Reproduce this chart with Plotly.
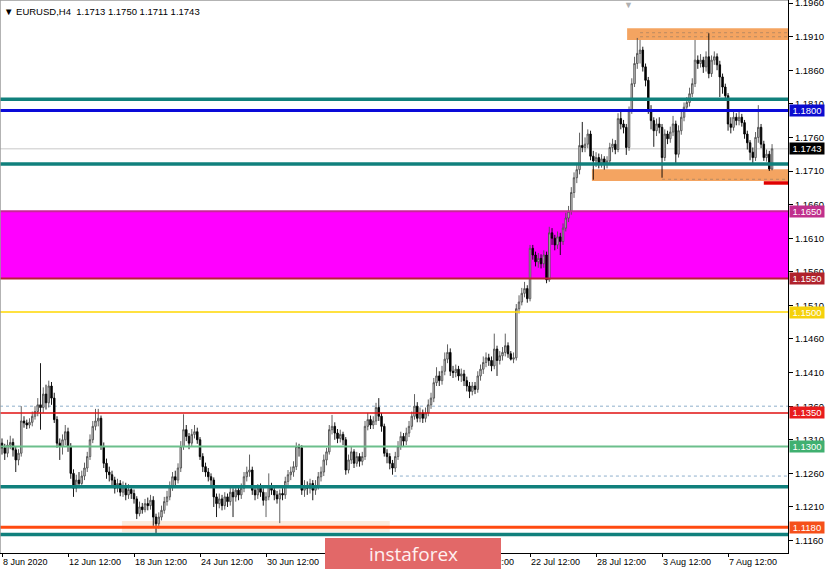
import plotly.graph_objects as go

# ---------------- data (EURUSD H4) ----------------
bar_index = list(range(284))

opens = [
1.1302,1.1300,1.1296,1.1305,1.1298,1.1290,1.1302,1.1306,1.1295,1.1280,
1.1290,1.1338,1.1335,1.1332,1.1336,1.1345,1.1352,1.1362,1.1358,1.1378,
1.1365,1.1390,1.1372,1.1340,1.1305,1.1300,1.1310,1.1322,1.1300,1.1260,
1.1238,1.1250,1.1245,1.1256,1.1268,1.1285,1.1310,1.1330,1.1338,1.1342,
1.1300,1.1275,1.1262,1.1258,1.1250,1.1238,1.1245,1.1232,1.1240,1.1228,
1.1236,1.1230,1.1222,1.1200,1.1210,1.1206,1.1215,1.1212,1.1220,1.1195,
1.1185,1.1195,1.1205,1.1218,1.1225,1.1240,1.1255,1.1250,1.1268,1.1300,
1.1325,1.1315,1.1305,1.1318,1.1322,1.1310,1.1285,1.1270,1.1262,1.1255,
1.1250,1.1225,1.1215,1.1222,1.1212,1.1225,1.1218,1.1232,1.1225,1.1235,
1.1228,1.1238,1.1255,1.1262,1.1265,1.1235,1.1228,1.1238,1.1232,1.1220,
1.1225,1.1240,1.1235,1.1228,1.1222,1.1230,1.1228,1.1248,1.1258,1.1262,
1.1270,1.1300,1.1298,1.1235,1.1240,1.1238,1.1245,1.1235,1.1242,1.1255,
1.1262,1.1280,1.1292,1.1325,1.1330,1.1320,1.1312,1.1318,1.1310,1.1265,
1.1280,1.1292,1.1275,1.1285,1.1278,1.1285,1.1330,1.1340,1.1332,1.1338,
1.1358,1.1345,1.1330,1.1290,1.1285,1.1275,1.1268,1.1285,1.1300,1.1315,
1.1308,1.1320,1.1330,1.1345,1.1360,1.1342,1.1350,1.1342,1.1350,1.1362,
1.1372,1.1395,1.1405,1.1398,1.1412,1.1430,1.1440,1.1412,1.1410,1.1415,
1.1405,1.1408,1.1398,1.1390,1.1382,1.1390,1.1385,1.1405,1.1415,1.1425,
1.1432,1.1428,1.1420,1.1445,1.1428,1.1435,1.1440,1.1450,1.1438,1.1430,
1.1432,1.1505,1.1515,1.1528,1.1535,1.1520,1.1595,1.1585,1.1575,1.1580,
1.1572,1.1585,1.1548,1.1618,1.1610,1.1600,1.1612,1.1605,1.1625,1.1640,
1.1650,1.1678,1.1700,1.1712,1.1748,1.1745,1.1750,1.1765,1.1732,1.1725,
1.1730,1.1722,1.1728,1.1720,1.1725,1.1745,1.1750,1.1742,1.1788,1.1780,
1.1775,1.1745,1.1800,1.1840,1.1870,1.1885,1.1890,1.1865,1.1845,1.1800,
1.1785,1.1770,1.1780,1.1775,1.1730,1.1765,1.1758,1.1768,1.1780,1.1735,
1.1770,1.1790,1.1805,1.1812,1.1825,1.1840,1.1875,1.1870,1.1875,1.1865,
1.1880,1.1855,1.1875,1.1880,1.1868,1.1850,1.1835,1.1822,1.1780,1.1775,
1.1790,1.1785,1.1790,1.1782,1.1765,1.1752,1.1738,1.1730,1.1760,1.1775,
1.1750,1.1730,1.1735,1.1713]

highs = [
1.1312,1.1310,1.1315,1.1312,1.1304,1.1310,1.1316,1.1312,1.1300,1.1296,
1.1360,1.1345,1.1340,1.1342,1.1352,1.1360,1.1372,1.1424,1.1388,1.1392,
1.1398,1.1396,1.1380,1.1345,1.1312,1.1318,1.1332,1.1328,1.1305,1.1266,
1.1258,1.1262,1.1264,1.1276,1.1292,1.1318,1.1338,1.1356,1.1356,1.1346,
1.1306,1.1282,1.1270,1.1264,1.1255,1.1252,1.1250,1.1248,1.1246,1.1244,
1.1242,1.1236,1.1226,1.1218,1.1216,1.1222,1.1224,1.1228,1.1226,1.1200,
1.1202,1.1212,1.1225,1.1234,1.1248,1.1262,1.1264,1.1275,1.1308,1.1348,
1.1332,1.1320,1.1326,1.1332,1.1328,1.1314,1.1290,1.1276,1.1268,1.1260,
1.1254,1.1230,1.1230,1.1228,1.1232,1.1230,1.1240,1.1238,1.1242,1.1240,
1.1245,1.1262,1.1270,1.1288,1.1270,1.1240,1.1244,1.1245,1.1238,1.1232,
1.1260,1.1246,1.1240,1.1234,1.1236,1.1238,1.1255,1.1265,1.1270,1.1278,
1.1306,1.1304,1.1302,1.1250,1.1248,1.1252,1.1250,1.1250,1.1262,1.1270,
1.1288,1.1298,1.1332,1.1347,1.1336,1.1326,1.1325,1.1322,1.1314,1.1288,
1.1300,1.1296,1.1292,1.1290,1.1292,1.1338,1.1350,1.1346,1.1345,1.1365,
1.1372,1.1350,1.1334,1.1296,1.1290,1.1280,1.1292,1.1308,1.1322,1.1320,
1.1328,1.1338,1.1352,1.1378,1.1366,1.1358,1.1355,1.1358,1.1370,1.1380,
1.1402,1.1418,1.1412,1.1420,1.1440,1.1452,1.1446,1.1420,1.1422,1.1420,
1.1416,1.1414,1.1404,1.1396,1.1396,1.1396,1.1412,1.1422,1.1434,1.1440,
1.1438,1.1434,1.1468,1.1450,1.1442,1.1448,1.1468,1.1455,1.1442,1.1440,
1.1512,1.1525,1.1536,1.1545,1.1540,1.1600,1.1600,1.1590,1.1588,1.1586,
1.1592,1.1590,1.1627,1.1625,1.1615,1.1620,1.1618,1.1632,1.1648,1.1658,
1.1686,1.1708,1.1722,1.1767,1.1783,1.1760,1.1772,1.1770,1.1740,1.1738,
1.1736,1.1735,1.1732,1.1732,1.1752,1.1758,1.1756,1.1796,1.1798,1.1786,
1.1780,1.1806,1.1848,1.1880,1.1908,1.1905,1.1895,1.1870,1.1850,1.1808,
1.1790,1.1788,1.1790,1.1780,1.1772,1.1770,1.1776,1.1792,1.1785,1.1778,
1.1798,1.1812,1.1820,1.1834,1.1848,1.1905,1.1882,1.1884,1.1880,1.1888,
1.1915,1.1882,1.1888,1.1885,1.1874,1.1855,1.1840,1.1826,1.1790,1.1798,
1.1796,1.1798,1.1795,1.1786,1.1770,1.1756,1.1745,1.1768,1.1808,1.1780,
1.1755,1.1742,1.1740,1.1750]

lows = [
1.1290,1.1286,1.1290,1.1288,1.1280,1.1284,1.1296,1.1285,1.1262,1.1272,
1.1285,1.1328,1.1326,1.1327,1.1330,1.1340,1.1345,1.1325,1.1350,1.1355,
1.1358,1.1362,1.1335,1.1298,1.1280,1.1288,1.1302,1.1292,1.1252,1.1225,
1.1232,1.1238,1.1240,1.1250,1.1262,1.1280,1.1305,1.1324,1.1330,1.1295,
1.1268,1.1252,1.1248,1.1242,1.1230,1.1232,1.1226,1.1225,1.1220,1.1222,
1.1222,1.1215,1.1192,1.1196,1.1200,1.1202,1.1205,1.1206,1.1182,1.1170,
1.1178,1.1190,1.1200,1.1212,1.1220,1.1234,1.1242,1.1245,1.1262,1.1295,
1.1308,1.1296,1.1300,1.1312,1.1304,1.1280,1.1262,1.1255,1.1248,1.1242,
1.1210,1.1195,1.1208,1.1205,1.1206,1.1210,1.1212,1.1195,1.1218,1.1220,
1.1222,1.1232,1.1248,1.1255,1.1228,1.1220,1.1222,1.1225,1.1212,1.1195,
1.1220,1.1228,1.1220,1.1215,1.1186,1.1220,1.1222,1.1242,1.1250,1.1255,
1.1265,1.1285,1.1228,1.1225,1.1228,1.1230,1.1220,1.1228,1.1236,1.1248,
1.1256,1.1272,1.1288,1.1318,1.1310,1.1305,1.1306,1.1302,1.1258,1.1260,
1.1274,1.1268,1.1270,1.1270,1.1272,1.1280,1.1324,1.1326,1.1326,1.1332,
1.1338,1.1322,1.1285,1.1275,1.1266,1.1258,1.1262,1.1280,1.1295,1.1300,
1.1302,1.1314,1.1325,1.1340,1.1336,1.1336,1.1335,1.1336,1.1345,1.1356,
1.1366,1.1390,1.1390,1.1392,1.1406,1.1424,1.1405,1.1402,1.1403,1.1398,
1.1396,1.1390,1.1382,1.1372,1.1376,1.1378,1.1380,1.1398,1.1408,1.1418,
1.1420,1.1412,1.1415,1.1405,1.1422,1.1428,1.1434,1.1432,1.1428,1.1424,
1.1428,1.1498,1.1510,1.1522,1.1514,1.1516,1.1578,1.1568,1.1566,1.1565,
1.1566,1.1543,1.1545,1.1600,1.1592,1.1594,1.1585,1.1600,1.1620,1.1634,
1.1645,1.1670,1.1692,1.1705,1.1738,1.1738,1.1744,1.1726,1.1697,1.1716,
1.1714,1.1715,1.1712,1.1714,1.1720,1.1738,1.1735,1.1738,1.1772,1.1766,
1.1734,1.1740,1.1795,1.1835,1.1862,1.1870,1.1858,1.1836,1.1795,1.1772,
1.1746,1.1762,1.1766,1.1700,1.1725,1.1750,1.1752,1.1762,1.1722,1.1730,
1.1764,1.1784,1.1798,1.1806,1.1820,1.1835,1.1862,1.1864,1.1856,1.1858,
1.1848,1.1850,1.1868,1.1860,1.1820,1.1825,1.1815,1.1770,1.1766,1.1770,
1.1778,1.1778,1.1776,1.1758,1.1742,1.1726,1.1722,1.1725,1.1752,1.1744,
1.1725,1.1724,1.1710,1.1711]

closes = [
1.1300,1.1296,1.1305,1.1298,1.1290,1.1302,1.1306,1.1295,1.1280,1.1290,
1.1338,1.1335,1.1332,1.1336,1.1345,1.1352,1.1362,1.1358,1.1378,1.1365,
1.1390,1.1372,1.1340,1.1305,1.1300,1.1310,1.1322,1.1300,1.1260,1.1238,
1.1250,1.1245,1.1256,1.1268,1.1285,1.1310,1.1330,1.1338,1.1342,1.1300,
1.1275,1.1262,1.1258,1.1250,1.1238,1.1245,1.1232,1.1240,1.1228,1.1236,
1.1230,1.1222,1.1200,1.1210,1.1206,1.1215,1.1212,1.1220,1.1195,1.1185,
1.1195,1.1205,1.1218,1.1225,1.1240,1.1255,1.1250,1.1268,1.1300,1.1325,
1.1315,1.1305,1.1318,1.1322,1.1310,1.1285,1.1270,1.1262,1.1255,1.1250,
1.1225,1.1215,1.1222,1.1212,1.1225,1.1218,1.1232,1.1225,1.1235,1.1228,
1.1238,1.1255,1.1262,1.1265,1.1235,1.1228,1.1238,1.1232,1.1220,1.1225,
1.1240,1.1235,1.1228,1.1222,1.1230,1.1228,1.1248,1.1258,1.1262,1.1270,
1.1300,1.1298,1.1235,1.1240,1.1238,1.1245,1.1235,1.1242,1.1255,1.1262,
1.1280,1.1292,1.1325,1.1330,1.1320,1.1312,1.1318,1.1310,1.1265,1.1280,
1.1292,1.1275,1.1285,1.1278,1.1285,1.1330,1.1340,1.1332,1.1338,1.1358,
1.1345,1.1330,1.1290,1.1285,1.1275,1.1268,1.1285,1.1300,1.1315,1.1308,
1.1320,1.1330,1.1345,1.1360,1.1342,1.1350,1.1342,1.1350,1.1362,1.1372,
1.1395,1.1405,1.1398,1.1412,1.1430,1.1440,1.1412,1.1410,1.1415,1.1405,
1.1408,1.1398,1.1390,1.1382,1.1390,1.1385,1.1405,1.1415,1.1425,1.1432,
1.1428,1.1420,1.1445,1.1428,1.1435,1.1440,1.1450,1.1438,1.1430,1.1432,
1.1505,1.1515,1.1528,1.1535,1.1520,1.1595,1.1585,1.1575,1.1580,1.1572,
1.1585,1.1548,1.1618,1.1610,1.1600,1.1612,1.1605,1.1625,1.1640,1.1650,
1.1678,1.1700,1.1712,1.1748,1.1745,1.1750,1.1765,1.1732,1.1725,1.1730,
1.1722,1.1728,1.1720,1.1725,1.1745,1.1750,1.1742,1.1788,1.1780,1.1775,
1.1745,1.1800,1.1840,1.1870,1.1885,1.1890,1.1865,1.1845,1.1800,1.1785,
1.1770,1.1780,1.1775,1.1730,1.1765,1.1758,1.1768,1.1780,1.1735,1.1770,
1.1790,1.1805,1.1812,1.1825,1.1840,1.1875,1.1870,1.1875,1.1865,1.1880,
1.1855,1.1875,1.1880,1.1868,1.1850,1.1835,1.1822,1.1780,1.1775,1.1790,
1.1785,1.1790,1.1782,1.1765,1.1752,1.1738,1.1730,1.1760,1.1775,1.1750,
1.1730,1.1735,1.1713,1.1743]

x_tick_bars = [3, 27, 51, 75, 99, 123, 147, 171, 195, 219, 243, 267]
x_tick_labels = ["8 Jun 2020", "12 Jun 12:00", "18 Jun 12:00", "24 Jun 12:00",
                 "30 Jun 12:00", "6 Jul 12:00", "10 Jul 12:00", "16 Jul 12:00",
                 "22 Jul 12:00", "28 Jul 12:00", "3 Aug 12:00", "7 Aug 12:00"]
y_tick_values = [1.1160, 1.1210, 1.1260, 1.1310, 1.1360, 1.1410, 1.1460, 1.1510,
                 1.1560, 1.1610, 1.1660, 1.1710, 1.1760, 1.1810, 1.1860, 1.1910, 1.1960]
y_tick_labels = ["%.4f" % v for v in y_tick_values]

# levels drawn on the chart
teal_levels = [1.18167, 1.17204, 1.12402, 1.11690]
blue_level = 1.1800
bid_level = 1.1743
magenta_zone = [1.1550, 1.1650]
yellow_level = 1.1500
red_level = 1.1350
green_level = 1.1300
orange_level = 1.1180
dotted_level_full = 1.1360
dotted_level_part = 1.1256
top_zone = [1.19049, 1.19224]
bottom_zone = [1.16951, 1.17125]
peach_band = [1.11729, 1.11892]
red_stub_level = 1.16922
title_text = "▼ EURUSD,H4\u00a0\u00a01.1713 1.1750 1.1711 1.1743"

price_tags = [
    ("1.1800", 1.1800, "#0c0cd0"),
    ("1.1743", 1.1743, "#000000"),
    ("1.1650", 1.1650, "#c0308c"),
    ("1.1550", 1.1550, "#b0222c"),
    ("1.1500", 1.1500, "#f5d10a"),
    ("1.1350", 1.1350, "#e81c1c"),
    ("1.1300", 1.1300, "#40b070"),
    ("1.1180", 1.1180, "#f5501a"),
]

# ---------------- figure ----------------
XMIN, XMAX = 2.27, 288.8
YMIN, YMAX = 1.11415, 1.19645
TEAL = "#10807c"

fig = go.Figure(go.Candlestick(
    x=bar_index, open=opens, high=highs, low=lows, close=closes,
    increasing=dict(line=dict(color="#505050", width=0.9), fillcolor="#d6d6d6"),
    decreasing=dict(line=dict(color="#000000", width=0.9), fillcolor="#000000"),
    whiskerwidth=0, showlegend=False, hoverinfo="skip"))

shapes = []
def rect(x0, x1, y0, y1, color, layer="below", xref="x"):
    shapes.append(dict(type="rect", xref=xref, yref="y", x0=x0, x1=x1, y0=y0, y1=y1,
                       fillcolor=color, line=dict(width=0), layer=layer))

def hline(y, color, width, x0=0, x1=1, xref="paper", dash="solid", layer="above"):
    shapes.append(dict(type="line", xref=xref, yref="y", x0=x0, x1=x1, y0=y, y1=y,
                       line=dict(color=color, width=width, dash=dash), layer=layer))

# zones
rect(0, 1, magenta_zone[0], magenta_zone[1], "#ff00ff", xref="paper")
rect(230.3, XMAX, top_zone[0], top_zone[1], "#f4a461")
rect(217.5, XMAX, bottom_zone[0], bottom_zone[1], "#f4a461")
rect(46.6, 144.0, peach_band[0], peach_band[1], "#fcebdc")

# thin / dotted lines (below candles)
hline(bid_level, "#c8c8c8", 1, layer="below")
hline(dotted_level_full, "#8fb0cc", 1, dash="dot", layer="below")
hline(dotted_level_part, "#8fb0cc", 1, x0=145.5, x1=XMAX, xref="x", dash="dot", layer="below")
hline(1.19158, "#b98a62", 1, x0=235, x1=XMAX, xref="x", dash="dot", layer="below")
hline(1.19098, "#b98a62", 1, x0=235, x1=XMAX, xref="x", dash="dot", layer="below")
hline(1.16977, "#b98a62", 1, x0=243, x1=XMAX, xref="x", dash="dot", layer="below")

# level lines
hline(magenta_zone[1], "#c8269a", 2)
hline(magenta_zone[0], "#b8203a", 2)
hline(yellow_level, "#ffd700", 1.5)
hline(red_level, "#e01010", 1.5)
hline(green_level, "#6cbf8c", 2)
hline(orange_level, "#ff4a10", 3)
for lv in teal_levels:
    hline(lv, TEAL, 3.5)
hline(blue_level, "#0a0ad8", 3)
hline(red_stub_level, "#e00000", 3.5, x0=280, x1=XMAX, xref="x")

# frame
shapes.append(dict(type="line", xref="paper", yref="paper", x0=0, x1=0, y0=0, y1=1,
                   line=dict(color="#9a9a9a", width=1.5), layer="above"))
shapes.append(dict(type="line", xref="paper", yref="paper", x0=0, x1=1, y0=1, y1=1,
                   line=dict(color="#9a9a9a", width=1.5), layer="above"))

# watermark box
shapes.append(dict(type="rect", xref="paper", yref="paper",
                   x0=325 / 788, x1=501 / 788, y0=-0.03, y1=15 / 553,
                   fillcolor="#e26868", line=dict(width=0), layer="above"))

annotations = [
    dict(text=title_text, xref="paper", yref="paper", x=0.003, y=1, yshift=-4,
         xanchor="left", yanchor="top", showarrow=False,
         font=dict(family="Liberation Sans", size=9.5, color="#000000")),
    dict(text="▼", xref="paper", yref="paper", x=628 / 788, y=1, yshift=2,
         xanchor="center", yanchor="top", showarrow=False,
         font=dict(size=9, color="#b0b0b0")),
    dict(text="instaforex", xref="paper", yref="paper", x=413 / 788, y=-0.001,
         xanchor="center", yanchor="middle", showarrow=False,
         font=dict(family="Open Sans", size=19, color="#fff0f0")),
]
for txt, lv, col in price_tags:
    annotations.append(dict(text=txt, xref="paper", yref="y", x=1, y=lv, xshift=1,
                            xanchor="left", yanchor="middle", showarrow=False,
                            bgcolor=col, width=34, height=11, borderpad=0,
                            font=dict(family="Liberation Sans", size=9.5, color="#ffffff")))

fig.update_layout(
    width=825, height=569,
    margin=dict(l=0, r=37, t=0, b=16),
    paper_bgcolor="#ffffff", plot_bgcolor="#ffffff",
    font=dict(family="Liberation Sans", size=10, color="#000000"),
    shapes=shapes, annotations=annotations, showlegend=False,
    boxgap=0.2,
    xaxis=dict(range=[XMIN, XMAX], rangeslider=dict(visible=False), automargin=False,
               showgrid=False, zeroline=False, showline=True, linecolor="#000000",
               linewidth=1, ticks="outside", ticklen=3, tickcolor="#000000",
               tickvals=x_tick_bars, ticktext=x_tick_labels, tickangle=0,
               ticklabelposition="outside right", ticklabeloverflow="allow",
               tickfont=dict(size=9)),
    yaxis=dict(range=[YMIN, YMAX], side="right", automargin=False,
               showgrid=False, zeroline=False, showline=True, linecolor="#000000",
               linewidth=1, ticks="outside", ticklen=4, tickcolor="#000000",
               tickvals=y_tick_values, ticktext=y_tick_labels,
               ticklabeloverflow="allow", tickfont=dict(size=9.5)),
)

fig.write_html("out.html", config={"displayModeBar": False},
               post_script="document.body.style.margin='0';document.body.style.overflow='hidden';")
